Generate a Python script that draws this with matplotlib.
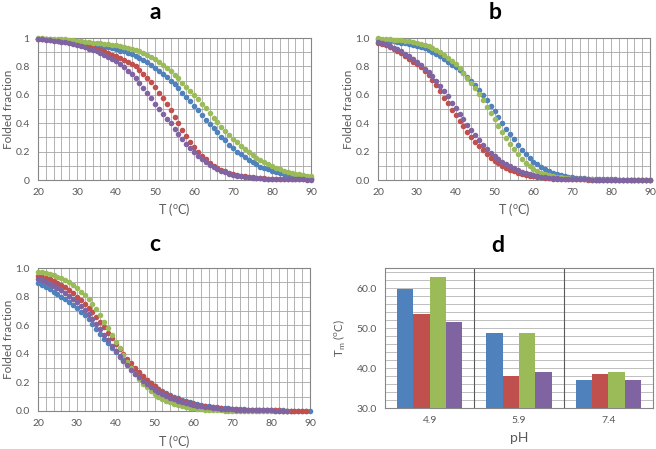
"""
Thermal unfolding curves (a-c) and Tm per pH (d), four variants each.
"""

import numpy as np
import matplotlib
matplotlib.use("Agg")
import matplotlib.pyplot as plt
from matplotlib.ticker import MultipleLocator

plt.rcParams["font.family"] = ["Lato", "DejaVu Sans"]
plt.rcParams["mathtext.fontset"] = "custom"
plt.rcParams["mathtext.rm"] = "Lato"

BLUE = "#4F81BD"
RED = "#C0504D"
GREEN = "#9BBB59"
PURPLE = "#8064A2"
TEXT = "#595959"

# temperature grid, 1 degree steps
TEMPS = list(range(20, 91))

# panel a (pH 4.9)
A_BLUE = [.99, .99, .99, .99, .985, .985, .98, .98, .975, .97,
          .97, .965, .96, .96, .955, .95, .945, .94, .935, .93,
          .92, .91, .905, .895, .885, .875, .86, .845, .83, .81,
          .79, .77, .75, .725, .70, .675, .645, .615, .585, .555,
          .52, .49, .455, .425, .395, .365, .335, .305, .28, .25,
          .225, .20, .18, .16, .14, .125, .11, .095, .085, .075,
          .065, .055, .048, .042, .036, .031, .027, .023, .02, .017,
          .015]
A_RED = [.99, .99, .99, .985, .985, .98, .98, .975, .97, .965,
         .96, .955, .95, .94, .935, .925, .915, .905, .895, .88,
         .87, .86, .845, .83, .815, .80, .775, .75, .72, .69,
         .655, .615, .575, .535, .49, .445, .40, .355, .31, .27,
         .235, .20, .17, .145, .12, .10, .085, .07, .06, .05,
         .042, .035, .03, .025, .021, .018, .015, .013, .011, .01,
         .009, .008, .008, .007, .006, .006, .005, .005, .005, .004,
         .004]
A_GREEN = [1.0, 1.0, .995, .995, .995, .99, .99, .99, .985, .985,
           .98, .978, .975, .972, .968, .965, .962, .958, .955, .952,
           .95, .945, .94, .93, .925, .915, .905, .895, .88, .865,
           .85, .83, .81, .79, .765, .74, .715, .685, .655, .625,
           .60, .57, .535, .505, .47, .44, .41, .375, .345, .315,
           .29, .265, .24, .215, .195, .175, .155, .14, .125, .11,
           .097, .085, .075, .066, .058, .051, .045, .039, .034, .03,
           .026]
A_PURPLE = [.99, .99, .985, .985, .98, .98, .975, .97, .965, .96,
            .95, .945, .935, .925, .915, .905, .895, .88, .865, .85,
            .835, .815, .795, .77, .745, .715, .685, .65, .615, .575,
            .535, .50, .465, .43, .40, .36, .325, .29, .255, .225,
            .195, .17, .145, .125, .105, .09, .075, .063, .053, .044,
            .037, .031, .026, .022, .019, .016, .014, .012, .01, .009,
            .008, .007, .006, .006, .005, .005, .004, .004, .004, .003,
            .003]

# panel b (pH 5.9)
B_BLUE = [.99, .985, .982, .978, .977, .972, .968, .963, .958, .953,
          .947, .938, .928, .918, .903, .888, .875, .855, .832, .812,
          .794, .774, .752, .727, .70, .67, .635, .60, .56, .52,
          .484, .444, .402, .362, .323, .287, .248, .213, .182, .152,
          .128, .11, .09, .075, .063, .051, .041, .034, .027, .022,
          .018, .015, .013, .011, .009, .008, .007, .006, .005, .005,
          .004, .004, .003, .003, .003, .003, .002, .002, .002, .002,
          .002]
B_RED = [.965, .957, .948, .937, .925, .911, .895, .875, .854, .834,
         .814, .795, .77, .742, .706, .666, .625, .58, .54, .494,
         .458, .414, .377, .337, .304, .269, .237, .21, .182, .157,
         .137, .117, .099, .085, .071, .061, .051, .043, .037, .031,
         .026, .022, .018, .015, .012, .01, .008, .007, .006, .005,
         .005, .004, .004, .004, .003, .003, .003, .003, .002, .002,
         .002, .002, .002, .002, .002, .002, .002, .002, .002, .002,
         .002]
B_GREEN = [1.0, .995, .993, .99, .987, .985, .983, .979, .977, .973,
           .968, .961, .953, .944, .931, .916, .90, .88, .862, .838,
           .815, .786, .755, .72, .686, .646, .603, .562, .517, .472,
           .43, .38, .337, .296, .253, .218, .183, .149, .122, .098,
           .078, .065, .052, .042, .035, .028, .022, .018, .014, .011,
           .009, .007, .006, .005, .004, .004, .003, .003, .003, .002,
           .002, .002, .002, .002, .002, .002, .002, .002, .002, .002,
           .002]
B_PURPLE = [.97, .962, .955, .945, .933, .92, .905, .89, .872, .853,
            .829, .81, .785, .762, .732, .697, .665, .625, .589, .544,
            .508, .464, .427, .387, .351, .314, .279, .25, .22, .193,
            .17, .147, .127, .11, .096, .082, .068, .058, .049, .041,
            .034, .029, .024, .02, .016, .013, .011, .009, .008, .007,
            .006, .005, .005, .004, .004, .003, .003, .003, .003, .002,
            .002, .002, .002, .002, .002, .002, .002, .002, .002, .002,
            .002]

# panel c (pH 7.4); red stops at 89, green and purple at 84
C_BLUE = [.895, .88, .865, .85, .835, .82, .80, .78, .76, .74,
          .72, .695, .67, .64, .61, .575, .54, .505, .475, .44,
          .41, .38, .355, .33, .305, .285, .265, .24, .215, .195,
          .175, .155, .14, .125, .11, .10, .088, .078, .069, .061,
          .054, .048, .042, .037, .033, .029, .026, .023, .02, .018,
          .016, .014, .012, .011, .01, .009, .008, .007, .006, .006,
          .005, .005, .004, .004, .003, .003, .003, .002, .002, .002,
          .002]
C_RED = [.945, .94, .93, .92, .91, .895, .88, .865, .845, .825,
         .80, .775, .75, .72, .69, .655, .62, .585, .545, .51,
         .47, .435, .40, .365, .335, .30, .275, .245, .22, .195,
         .175, .155, .135, .12, .105, .093, .082, .072, .063, .055,
         .048, .042, .037, .032, .028, .025, .022, .019, .017, .015,
         .013, .011, .01, .009, .008, .007, .006, .006, .005, .005,
         .004, .004, .004, .003, .003, .003, .003, .002, .002, .002]
C_GREEN = [.975, .97, .965, .96, .95, .94, .93, .915, .90, .88,
           .86, .835, .81, .78, .745, .71, .67, .625, .58, .53,
           .485, .44, .39, .345, .30, .26, .225, .19, .165, .14,
           .12, .10, .085, .07, .06, .05, .04, .033, .027, .022,
           .018, .014, .011, .009, .007, .006, .005, .004, .003, .003,
           .002, .002, .002, .002, .001, .001, .001, .001, .001, .001,
           .001, .001, .001, .001, .001]
C_PURPLE = [.925, .915, .905, .89, .875, .86, .845, .825, .805, .785,
            .76, .735, .705, .675, .64, .605, .57, .53, .495, .455,
            .42, .385, .35, .32, .29, .26, .235, .21, .19, .17,
            .15, .135, .12, .105, .093, .082, .072, .063, .055, .048,
            .042, .037, .032, .028, .025, .022, .019, .017, .015, .013,
            .011, .01, .009, .008, .007, .006, .006, .005, .005, .004,
            .004, .003, .003, .003, .003]

# panel d: Tm per pH
PH_LABELS = ["4.9", "5.9", "7.4"]
TM_BLUE = [59.8, 48.7, 36.9]
TM_RED = [53.5, 38.1, 38.6]
TM_GREEN = [62.8, 48.7, 38.9]
TM_PURPLE = [51.4, 39.1, 36.9]


def style_axis(ax):
    for sp in ax.spines.values():
        sp.set_color("#868686")
        sp.set_linewidth(0.8)
    ax.tick_params(colors=TEXT, labelsize=7.5, length=0, pad=6)
    ax.tick_params(which="minor", length=0)


def curve_panel(ax, series, ylabels):
    for vals, color in series:
        ax.plot(TEMPS[:len(vals)], vals, "o", ms=4.0, color=color,
                mec="none", clip_on=False, zorder=3)
    ax.set_xlim(20, 90)
    ax.set_ylim(0, 1)
    ax.xaxis.set_major_locator(MultipleLocator(10))
    ax.xaxis.set_minor_locator(MultipleLocator(2))
    ax.yaxis.set_minor_locator(MultipleLocator(0.1))
    ax.set_yticks(np.arange(0, 1.01, 0.2))
    ax.set_yticklabels(ylabels)
    ax.grid(which="both", color="#A6A6A6", lw=0.6)
    ax.set_axisbelow(True)
    style_axis(ax)
    ax.set_xlabel(r"T ($^\mathregular{o}$C)", fontsize=9, color=TEXT, labelpad=3)
    ax.set_ylabel("Folded fraction", fontsize=8.5, color=TEXT, labelpad=1)


def main():
    fig = plt.figure(figsize=(6.56, 4.49), dpi=100)
    W, H = 656, 449

    def axes_px(left, top, right, bottom):
        return fig.add_axes([left / W, 1 - bottom / H, (right - left) / W, (bottom - top) / H])

    ax_a = axes_px(38, 38, 311, 180)
    ax_b = axes_px(378, 38, 650, 180)
    ax_c = axes_px(38, 268, 310, 411)
    ax_d = axes_px(385, 268, 653, 408)

    curve_panel(ax_a, [(A_BLUE, BLUE), (A_RED, RED), (A_GREEN, GREEN), (A_PURPLE, PURPLE)],
                ["0", "0.2", "0.4", "0.6", "0.8", "1"])
    curve_panel(ax_b, [(B_BLUE, BLUE), (B_RED, RED), (B_GREEN, GREEN), (B_PURPLE, PURPLE)],
                ["0.0", "0.2", "0.4", "0.6", "0.8", "1.0"])
    curve_panel(ax_c, [(C_BLUE, BLUE), (C_RED, RED), (C_GREEN, GREEN), (C_PURPLE, PURPLE)],
                ["0.0", "0.2", "0.4", "0.6", "0.8", "1.0"])

    # bar panel
    x = np.arange(len(PH_LABELS))
    w = 0.182
    for i, (vals, color) in enumerate([(TM_BLUE, BLUE), (TM_RED, RED),
                                       (TM_GREEN, GREEN), (TM_PURPLE, PURPLE)]):
        ax_d.bar(x + (i - 1.5) * w, [v - 30 for v in vals], w, bottom=30,
                 color=color, zorder=3)
    ax_d.set_xlim(-0.5, 2.5)
    ax_d.set_ylim(30, 65)
    ax_d.set_yticks([30, 40, 50, 60])
    ax_d.set_yticklabels(["30.0", "40.0", "50.0", "60.0"])
    ax_d.yaxis.set_minor_locator(MultipleLocator(2))
    ax_d.grid(axis="y", which="both", color="#BFBFBF", lw=0.7)
    ax_d.set_axisbelow(True)
    for sep in [0.5, 1.5]:
        ax_d.axvline(sep, color="#595959", lw=0.8, zorder=2)
    ax_d.set_xticks(x)
    ax_d.set_xticklabels(PH_LABELS)
    style_axis(ax_d)
    ax_d.set_xlabel("pH", fontsize=10, color=TEXT, labelpad=5)
    ax_d.set_ylabel(r"T$_\mathregular{m}$ ($^\mathregular{o}$C)", fontsize=8.5, color=TEXT, labelpad=6)

    # panel letters
    for label, px, py in [("a", 155, 19), ("b", 495, 19), ("c", 155, 251), ("d", 498, 252)]:
        fig.text(px / W, 1 - py / H, label, ha="center", va="baseline",
                 fontsize=16.5, fontweight="bold", color="black")

    fig.savefig("out.png", dpi=100)
    plt.close(fig)


if __name__ == "__main__":
    main()
